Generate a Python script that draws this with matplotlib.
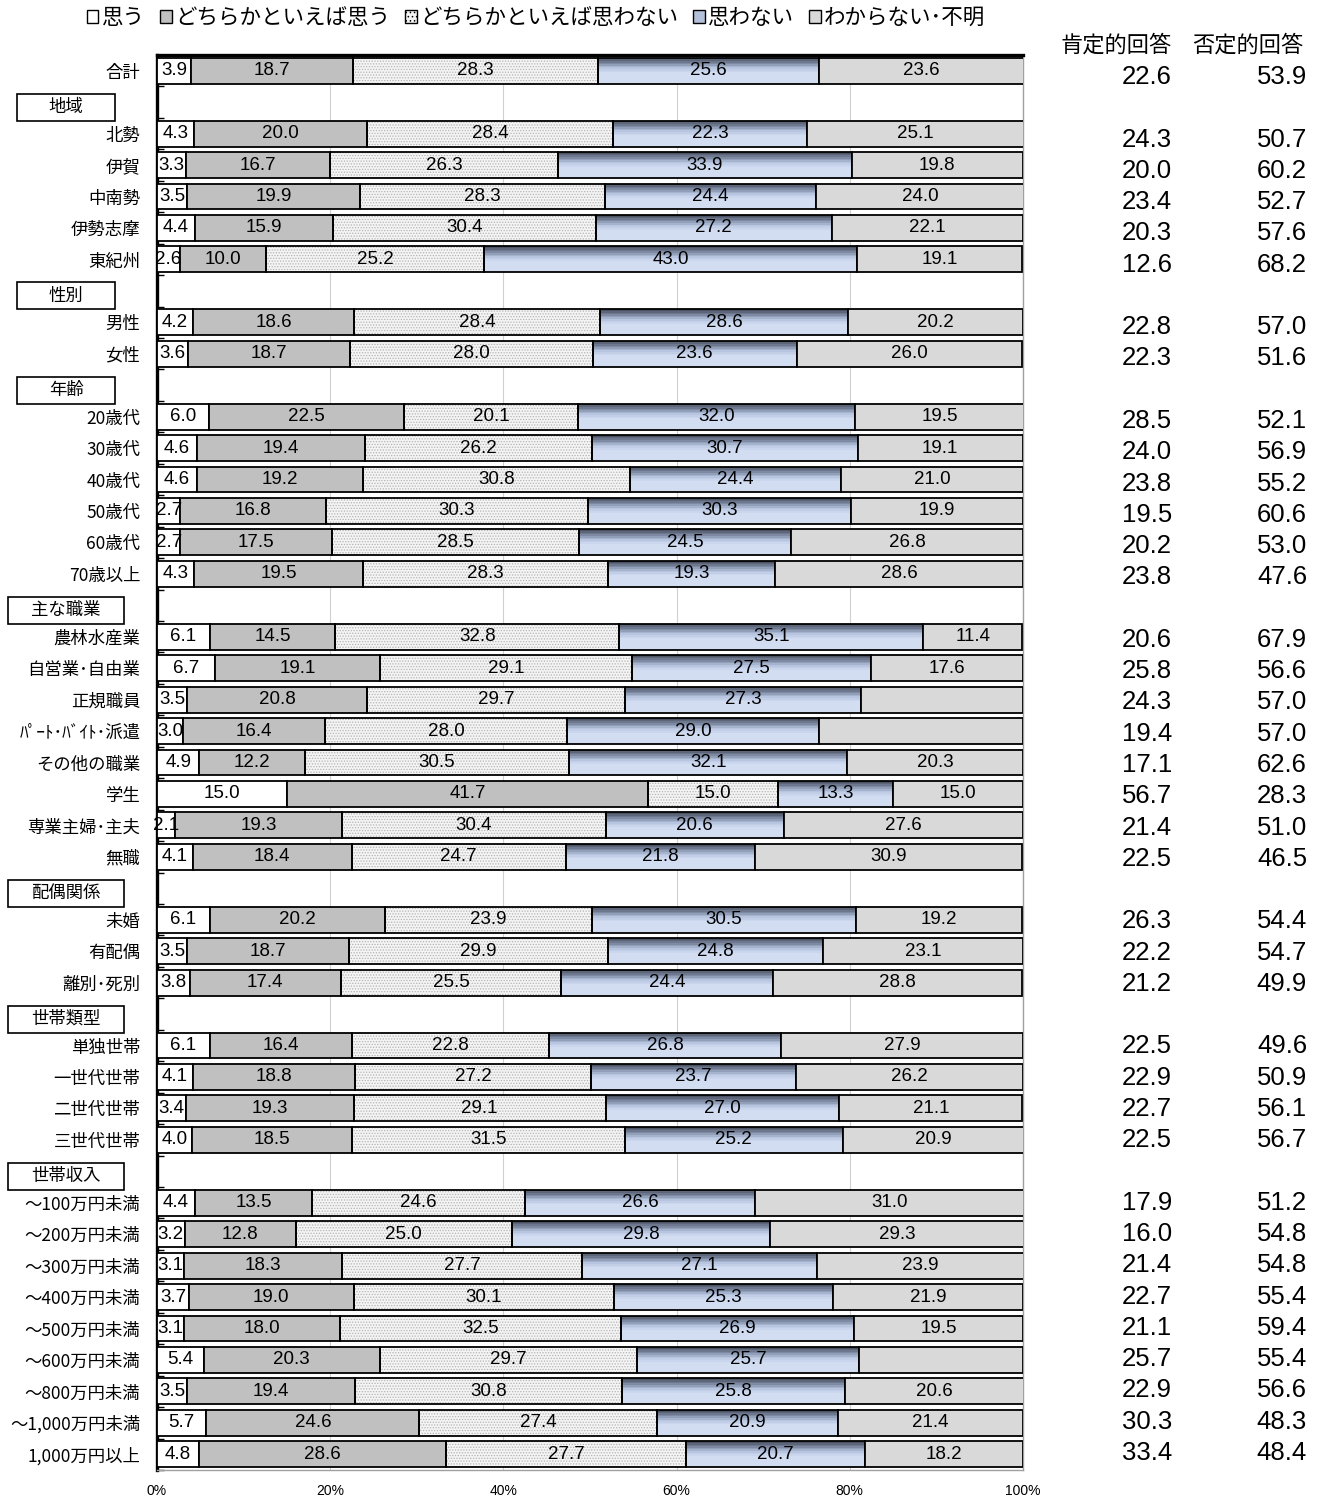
import numpy as np
import matplotlib.pyplot as plt
from matplotlib.colors import LinearSegmentedColormap
from matplotlib.patches import Patch, Rectangle

plt.rcParams['font.family'] = ['Noto Sans CJK JP', 'DejaVu Sans']
plt.rcParams['hatch.linewidth'] = 0.6

# 行の並び（見出し行を含む）
row_labels = ["合計", "地域", "北勢", "伊賀", "中南勢", "伊勢志摩", "東紀州",
              "性別", "男性", "女性",
              "年齢", "20歳代", "30歳代", "40歳代", "50歳代", "60歳代", "70歳以上",
              "主な職業", "農林水産業", "自営業･自由業", "正規職員", "ﾊﾟｰﾄ･ﾊﾞｲﾄ･派遣",
              "その他の職業", "学生", "専業主婦･主夫", "無職",
              "配偶関係", "未婚", "有配偶", "離別･死別",
              "世帯類型", "単独世帯", "一世代世帯", "二世代世帯", "三世代世帯",
              "世帯収入", "～100万円未満", "～200万円未満", "～300万円未満", "～400万円未満",
              "～500万円未満", "～600万円未満", "～800万円未満", "～1,000万円未満", "1,000万円以上"]
group_headers = ["地域", "性別", "年齢", "主な職業", "配偶関係", "世帯類型", "世帯収入"]

series_names = ["思う", "どちらかといえば思う", "どちらかといえば思わない", "思わない", "わからない･不明"]

omou = [3.9, 4.3, 3.3, 3.5, 4.4, 2.6, 4.2, 3.6, 6.0, 4.6, 4.6, 2.7, 2.7, 4.3,
        6.1, 6.7, 3.5, 3.0, 4.9, 15.0, 2.1, 4.1, 6.1, 3.5, 3.8, 6.1, 4.1, 3.4, 4.0,
        4.4, 3.2, 3.1, 3.7, 3.1, 5.4, 3.5, 5.7, 4.8]
yaya_omou = [18.7, 20.0, 16.7, 19.9, 15.9, 10.0, 18.6, 18.7, 22.5, 19.4, 19.2, 16.8, 17.5, 19.5,
             14.5, 19.1, 20.8, 16.4, 12.2, 41.7, 19.3, 18.4, 20.2, 18.7, 17.4, 16.4, 18.8, 19.3, 18.5,
             13.5, 12.8, 18.3, 19.0, 18.0, 20.3, 19.4, 24.6, 28.6]
yaya_omowanai = [28.3, 28.4, 26.3, 28.3, 30.4, 25.2, 28.4, 28.0, 20.1, 26.2, 30.8, 30.3, 28.5, 28.3,
                 32.8, 29.1, 29.7, 28.0, 30.5, 15.0, 30.4, 24.7, 23.9, 29.9, 25.5, 22.8, 27.2, 29.1, 31.5,
                 24.6, 25.0, 27.7, 30.1, 32.5, 29.7, 30.8, 27.4, 27.7]
omowanai = [25.6, 22.3, 33.9, 24.4, 27.2, 43.0, 28.6, 23.6, 32.0, 30.7, 24.4, 30.3, 24.5, 19.3,
            35.1, 27.5, 27.3, 29.0, 32.1, 13.3, 20.6, 21.8, 30.5, 24.8, 24.4, 26.8, 23.7, 27.0, 25.2,
            26.6, 29.8, 27.1, 25.3, 26.9, 25.7, 25.8, 20.9, 20.7]
fumei = [23.6, 25.1, 19.8, 24.0, 22.1, 19.1, 20.2, 26.0, 19.5, 19.1, 21.0, 19.9, 26.8, 28.6,
         11.4, 17.6, 18.7, 23.6, 20.3, 15.0, 27.6, 30.9, 19.2, 23.1, 28.8, 27.9, 26.2, 21.1, 20.9,
         31.0, 29.3, 23.9, 21.9, 19.5, 18.9, 20.6, 21.4, 18.2]
# 数値ラベルを付けない「わからない･不明」
fumei_nolabel = ["正規職員", "ﾊﾟｰﾄ･ﾊﾞｲﾄ･派遣", "～600万円未満"]

koutei = [22.6, 24.3, 20.0, 23.4, 20.3, 12.6, 22.8, 22.3, 28.5, 24.0, 23.8, 19.5, 20.2, 23.8,
          20.6, 25.8, 24.3, 19.4, 17.1, 56.7, 21.4, 22.5, 26.3, 22.2, 21.2, 22.5, 22.9, 22.7, 22.5,
          17.9, 16.0, 21.4, 22.7, 21.1, 25.7, 22.9, 30.3, 33.4]
hitei = [53.9, 50.7, 60.2, 52.7, 57.6, 68.2, 57.0, 51.6, 52.1, 56.9, 55.2, 60.6, 53.0, 47.6,
         67.9, 56.6, 57.0, 57.0, 62.6, 28.3, 51.0, 46.5, 54.4, 54.7, 49.9, 49.6, 50.9, 56.1, 56.7,
         51.2, 54.8, 54.8, 55.4, 59.4, 55.4, 56.6, 48.3, 48.4]

W, H = 1321, 1500
fig = plt.figure(figsize=(W / 100, H / 100), dpi=100)
ax = fig.add_axes([157 / W, 30 / H, 866 / W, 1415 / H])

ypos = np.array([i for i, l in enumerate(row_labels) if l not in group_headers])
names = [l for l in row_labels if l not in group_headers]
bar_h = 0.82
num_font = ['Liberation Sans', 'DejaVu Sans']

# 「思わない」は上端が暗いグラデーション（細い帯を重ねて描く）
blue_cmap = LinearSegmentedColormap.from_list("blue", ["#4c5364", "#7d89a2", "#b6c4df", "#d2ddf2"])
n_slices = 16

vals = [np.array(omou), np.array(yaya_omou), np.array(yaya_omowanai), np.array(omowanai), np.array(fumei)]
left = np.zeros(len(ypos))
for k, v in enumerate(vals):
    if k == 0:
        bars = ax.barh(ypos, v, left=left, height=bar_h, color="white", edgecolor="black", lw=1.3, zorder=3)
    elif k == 1:
        bars = ax.barh(ypos, v, left=left, height=bar_h, color="#c0c0c0", edgecolor="black", lw=1.3, zorder=3)
    elif k == 2:
        ax.barh(ypos, v, left=left, height=bar_h, color="#f4f4f4", edgecolor="#b4b4b4",
                hatch="......", lw=0, zorder=2)
        bars = ax.barh(ypos, v, left=left, height=bar_h, fill=False, edgecolor="black", lw=1.3, zorder=3)
    elif k == 3:
        sh = bar_h / n_slices
        for s in range(n_slices):
            t = min(1.0, s / (n_slices * 0.55))
            ax.barh(ypos - bar_h / 2 + (s + 0.5) * sh, v, left=left, height=sh * 1.05,
                    color=blue_cmap(t), lw=0, zorder=2)
        bars = ax.barh(ypos, v, left=left, height=bar_h, fill=False, edgecolor="black", lw=1.3, zorder=3)
    else:
        bars = ax.barh(ypos, v, left=left, height=bar_h, color="#d9d9d9", edgecolor="black", lw=1.3, zorder=3)

    for j, b in enumerate(bars):
        if k == 4 and names[j] in fumei_nolabel:
            continue
        ax.text(left[j] + v[j] / 2, ypos[j], f"{v[j]:.1f}", ha="center", va="center",
                fontsize=13.5, family=num_font, zorder=5)
    left = left + v

ax.set_xlim(0, 100)
ax.set_ylim(len(row_labels) - 0.5, -0.5)

ax.set_xticks(np.arange(0, 101, 20))
ax.set_xticklabels([f"{t}%" for t in range(0, 101, 20)], family=num_font, fontsize=10)
ax.xaxis.grid(True, color="#d0d0d0", lw=0.8)
ax.set_axisbelow(True)
ax.tick_params(axis="x", length=0, pad=10)

ax.set_yticks(ypos)
ax.set_yticklabels(names, fontsize=12.5)
ax.tick_params(axis="y", length=0, pad=12)
ax.set_yticks(np.arange(-0.5, len(row_labels), 1), minor=True)
ax.tick_params(axis="y", which="minor", direction="in", length=5, width=1, color="black")

ax.spines["left"].set_linewidth(2.4)
ax.spines["top"].set_linewidth(2.4)
ax.spines["right"].set_color("#a0a0a0")
ax.spines["bottom"].set_color("#a0a0a0")
ax.spines["right"].set_linewidth(1)
ax.spines["bottom"].set_linewidth(1)

# 見出し行の枠付きラベル
row_px = 1415 / len(row_labels)
for g in group_headers:
    i = row_labels.index(g)
    cy = H - (55 + (i + 0.5) * row_px + 5)
    bw = max(98, 17.5 * len(g) + 46)
    fig.add_artist(Rectangle(((66 - bw / 2) / W, (cy - 13.5) / H), bw / W, 27 / H,
                             transform=fig.transFigure, fill=False, ec="black", lw=1.2))
    fig.text(66 / W, cy / H, g, ha="center", va="center", fontsize=12.5)

# 右側の集計列
fig.text(1116 / W, 1 - 45 / H, "肯定的回答", ha="center", va="center", fontsize=16)
fig.text(1248 / W, 1 - 45 / H, "否定的回答", ha="center", va="center", fontsize=16)
for j, i in enumerate(ypos):
    py = 77 + i * (1453 - 77) / (len(row_labels) - 1)
    fig.text(1172 / W, 1 - py / H, f"{koutei[j]:.1f}", ha="right", va="center",
             fontsize=18.5, family=num_font)
    fig.text(1307 / W, 1 - py / H, f"{hitei[j]:.1f}", ha="right", va="center",
             fontsize=18.5, family=num_font)

handles = [Patch(fc="white", ec="black", lw=1),
           Patch(fc="#c0c0c0", ec="black", lw=1),
           Patch(fc="#f4f4f4", ec="black", hatch="....", lw=1),
           Patch(fc="#b3c0da", ec="black", lw=1),
           Patch(fc="#d9d9d9", ec="black", lw=1)]
fig.legend(handles, series_names, loc="center", bbox_to_anchor=(536 / W, 1 - 18 / H), ncol=5,
           frameon=False, fontsize=15.5, handlelength=0.55, handleheight=0.55,
           handletextpad=0.15, columnspacing=0.7, borderpad=0)

fig.savefig("out.png", dpi=100)
